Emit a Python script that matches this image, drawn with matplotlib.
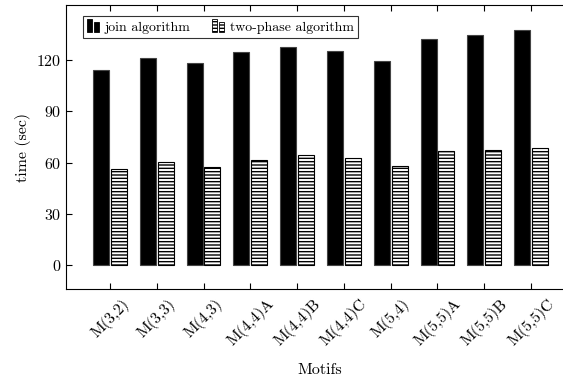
import matplotlib

matplotlib.use("Agg")
import matplotlib.pyplot as plt
import numpy as np
from matplotlib.container import BarContainer
from matplotlib.legend_handler import HandlerBase
from matplotlib.patches import Rectangle

plt.rcParams["font.family"] = "serif"
plt.rcParams["font.serif"] = ["cmr10"]
plt.rcParams["mathtext.fontset"] = "cm"
plt.rcParams["axes.formatter.use_mathtext"] = True
plt.rcParams["hatch.linewidth"] = 1.0
plt.rcParams["hatch.color"] = "#555555"

motifs = ["M(3,2)", "M(3,3)", "M(4,3)", "M(4,4)A", "M(4,4)B",
          "M(4,4)C", "M(5,4)", "M(5,5)A", "M(5,5)B", "M(5,5)C"]
join_time = [114.3, 121, 118.4, 124.5, 127.6, 125.5, 119.4, 132.3, 134.4, 137.5]
two_phase_time = [56.3, 60.5, 57.5, 61.4, 64.3, 62.5, 57.9, 66.7, 67.3, 68.3]


class TwoBarHandler(HandlerBase):
    """Legend image made of two small bars, like a tiny bar chart."""

    def create_artists(self, legend, orig_handle, xdescent, ydescent,
                       width, height, fontsize, trans):
        src = orig_handle.patches[0]
        bw = width * 0.38
        gap = width * 0.12
        heights = [height * 1.25, height * 0.95]
        artists = []
        for i, h in enumerate(heights):
            r = Rectangle((-xdescent + i * (bw + gap), -ydescent - height * 0.1),
                          bw, h, transform=trans,
                          facecolor=src.get_facecolor(),
                          edgecolor="black", linewidth=0.6,
                          hatch=src.get_hatch())
            artists.append(r)
        return artists


x = np.arange(len(motifs))
w = 0.34

fig = plt.figure(figsize=(5.63, 3.83), dpi=100)
ax = fig.add_axes([0.118, 0.245, 0.9, 0.742])

ax.bar(x - 0.19, join_time, w, color="black", edgecolor="#444444",
       linewidth=0.8, label="join algorithm")
ax.bar(x + 0.19, two_phase_time, w, color="white", edgecolor="black",
       linewidth=0.8, hatch="-----", label="two-phase algorithm")

ax.set_xlim(-0.93, 9.9)
ax.set_ylim(-13.85, 152.1)
ax.set_yticks([0, 30, 60, 90, 120])
ax.set_xticks(x)
ax.set_xticklabels(motifs, rotation=45, ha="center", va="top", fontsize=11.5)
ax.tick_params(direction="in", top=True, right=True, labelsize=11.5, length=4)
ax.tick_params(axis="x", pad=5)
ax.set_ylabel("time (sec)", fontsize=11.5)
ax.set_xlabel("Motifs", fontsize=11.5, labelpad=10)

leg = ax.legend(loc="upper left", bbox_to_anchor=(0.032, 0.96), ncol=2,
                fontsize=10, frameon=True, fancybox=False, borderpad=0.3,
                handlelength=1.0, handleheight=0.8, handletextpad=0.3,
                columnspacing=1.5, borderaxespad=0,
                handler_map={BarContainer: TwoBarHandler()})
leg.get_frame().set_edgecolor("black")
leg.get_frame().set_linewidth(0.8)

fig.savefig("out.png", dpi=100)
